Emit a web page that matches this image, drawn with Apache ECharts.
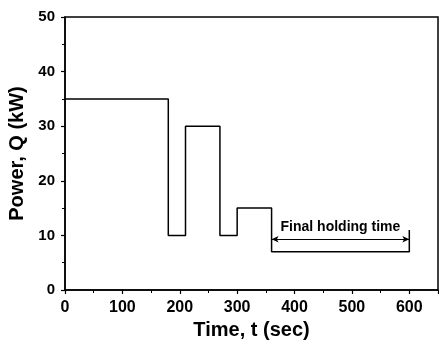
<!DOCTYPE html>
<html>
<head>
<meta charset="utf-8">
<script src="https://cdn.jsdelivr.net/npm/echarts@6/dist/echarts.min.js"></script>
<style>html,body{margin:0;padding:0;background:#fff;}#c{width:439px;height:341px;}</style>
</head>
<body>
<div id="c"></div>
<script>
// Power profile: time (sec) and power (kW)
var timeSec = [0, 180, 180, 210, 210, 270, 270, 300, 300, 360, 360, 600, 600];
var powerKW = [35, 35, 10, 10, 30, 30, 10, 10, 15, 15, 7, 7, 11];
var holdStart = 360, holdEnd = 600, holdLevel = 9.3;
var holdLabel = 'Final holding time';
var xTicks = [0, 100, 200, 300, 400, 500, 600];
var yTicks = [0, 10, 20, 30, 40, 50];

var chart = echarts.init(document.getElementById('c'));
var F = 'Liberation Sans, Arial, sans-serif';
chart.setOption({
  animation: false,
  grid: {left: 65, right: 1, top: 17, bottom: 51, show: true, borderColor: '#000', borderWidth: 1.5,
    containLabel: false, outerBoundsMode: 'none'},
  xAxis: {
    type: 'value', min: 0, max: 650, interval: 100,
    name: 'Time, t (sec)', nameLocation: 'middle', nameGap: 30,
    nameTextStyle: {fontFamily: F, fontWeight: 'bold', fontSize: 20, color: '#000'},
    axisLine: {lineStyle: {color: '#000', width: 1.5}},
    axisTick: {inside: false, length: 4, lineStyle: {color: '#000', width: 1.2}},
    minorTick: {show: true, splitNumber: 2, length: 3, lineStyle: {color: '#000'}},
    splitLine: {show: false},
    axisLabel: {fontFamily: F, fontWeight: 'bold', fontSize: 16, color: '#000', margin: 10,
      formatter: function (v) { return xTicks.indexOf(v) >= 0 ? String(v) : ''; }}
  },
  yAxis: {
    type: 'value', min: 0, max: 50, interval: 10,
    name: 'Power, Q (kW)', nameLocation: 'middle', nameGap: 31,
    nameTextStyle: {fontFamily: F, fontWeight: 'bold', fontSize: 20, color: '#000'},
    axisLine: {lineStyle: {color: '#000', width: 1.5}},
    axisTick: {inside: false, length: 4, lineStyle: {color: '#000', width: 1.2}},
    minorTick: {show: true, splitNumber: 2, length: 3, lineStyle: {color: '#000'}},
    splitLine: {show: false},
    axisLabel: {fontFamily: F, fontWeight: 'bold', fontSize: 15, color: '#000', margin: 10,
      formatter: function (v) { return yTicks.indexOf(v) >= 0 ? String(v) : ''; }}
  },
  series: [{
    type: 'line',
    data: timeSec.map(function (t, i) { return [t, powerKW[i]]; }),
    symbol: 'none',
    lineStyle: {color: '#000', width: 1.5},
    markLine: {
      silent: true,
      symbol: ['arrow', 'arrow'], symbolSize: [5, 7],
      lineStyle: {color: '#000', width: 1, type: 'solid'},
      label: {show: true, position: 'middle', formatter: holdLabel, fontFamily: F, fontWeight: 'bold', fontSize: 14, color: '#000', distance: 5},
      data: [[{coord: [holdStart, holdLevel]}, {coord: [holdEnd, holdLevel]}]]
    }
  }]
});
</script>
</body>
</html>
